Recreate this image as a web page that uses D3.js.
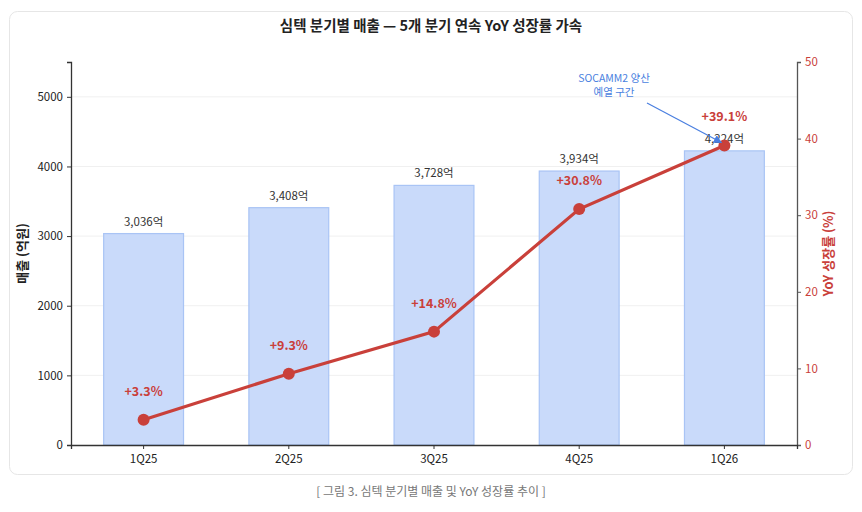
<!DOCTYPE html>
<html>
<head>
<meta charset="utf-8">
<script src="https://cdn.jsdelivr.net/npm/d3@7"></script>
<style>
  body { margin: 0; background: #fff; font-family: "Noto Sans CJK KR", "Noto Sans", sans-serif; }
  svg text { font-family: "Noto Sans CJK KR", "Noto Sans", sans-serif; }
</style>
</head>
<body>
<svg id="chart" width="862" height="512"></svg>
<script>
// data
const quarters = ['1Q25', '2Q25', '3Q25', '4Q25', '1Q26']
const revenue = [3036, 3408, 3728, 3934, 4224]
const yoy = [3.3, 9.3, 14.8, 30.8, 39.1]
const revTicks = [0, 1000, 2000, 3000, 4000, 5000]
const yoyTicks = [0, 10, 20, 30, 40, 50]

const svg = d3.select('#chart')
const margin = { left: 71, right: 65, top: 62, bottom: 67 }
const W = 862, H = 512
const x0 = margin.left, x1 = W - margin.right
const y0 = H - margin.bottom, y1 = margin.top

// card
svg.append('rect')
  .attr('x', 9.5).attr('y', 11.5).attr('width', 843).attr('height', 463)
  .attr('rx', 8).attr('fill', '#fff').attr('stroke', '#e6e6e6')

svg.append('text')
  .attr('x', 431).attr('y', 31).attr('text-anchor', 'middle')
  .attr('font-size', 14.5).attr('font-weight', 700).attr('fill', '#222')
  .text('심텍 분기별 매출 — 5개 분기 연속 YoY 성장률 가속')

const x = d3.scaleBand().domain(quarters).range([x0, x1]).paddingInner(0.45).paddingOuter(0.225)
const yL = d3.scaleLinear().domain([0, 5500]).range([y0, y1])
const yR = d3.scaleLinear().domain([0, 50]).range([y0, y1])
const cx = d => x(d) + x.bandwidth() / 2

// grid
svg.append('g').selectAll('line').data(revTicks.slice(1)).enter().append('line')
  .attr('x1', x0).attr('x2', x1)
  .attr('y1', d => yL(d)).attr('y2', d => yL(d))
  .attr('stroke', '#f0f0f0').attr('stroke-width', 1)

// bars
svg.append('g').selectAll('rect').data(quarters).enter().append('rect')
  .attr('x', d => x(d)).attr('width', x.bandwidth())
  .attr('y', (d, i) => yL(revenue[i])).attr('height', (d, i) => y0 - yL(revenue[i]))
  .attr('fill', '#c9dafa').attr('stroke', '#a9c4f5').attr('stroke-width', 1.2)

svg.append('g').selectAll('text').data(quarters).enter().append('text')
  .attr('x', d => cx(d)).attr('y', (d, i) => yL(revenue[i]) - 8)
  .attr('text-anchor', 'middle').attr('font-size', 11.5).attr('fill', '#333')
  .text((d, i) => d3.format(',')(revenue[i]) + '억')

// axes
const axL = svg.append('g').attr('transform', `translate(${x0},0)`)
  .call(d3.axisLeft(yL).tickValues(revTicks).tickFormat(d3.format('d')).tickSize(4).tickPadding(4))
axL.select('.domain').attr('stroke', '#333').attr('stroke-width', 1.3)
axL.selectAll('.tick line').attr('stroke', '#333')
axL.selectAll('text').attr('font-size', 11.5).attr('fill', '#222')

const axR = svg.append('g').attr('transform', `translate(${x1},0)`)
  .call(d3.axisRight(yR).tickValues(yoyTicks).tickSize(4).tickPadding(4))
axR.select('.domain').attr('stroke', '#555').attr('stroke-width', 1.3)
axR.selectAll('.tick line').attr('stroke', '#555')
axR.selectAll('text').attr('font-size', 11.5).attr('fill', '#c9403a')

const axB = svg.append('g').attr('transform', `translate(0,${y0})`)
  .call(d3.axisBottom(x).tickSize(4).tickPadding(6))
axB.select('.domain').attr('stroke', '#333').attr('stroke-width', 1.3)
axB.selectAll('.tick line').attr('stroke', '#333')
axB.selectAll('text').attr('font-size', 11.5).attr('fill', '#222')

// axis titles
svg.append('text')
  .attr('transform', `translate(27,${(y0 + y1) / 2}) rotate(-90)`)
  .attr('text-anchor', 'middle').attr('font-size', 13).attr('font-weight', 700).attr('fill', '#222')
  .text('매출 (억원)')
svg.append('text')
  .attr('transform', `translate(833,${(y0 + y1) / 2}) rotate(-90)`)
  .attr('text-anchor', 'middle').attr('font-size', 13).attr('font-weight', 700).attr('fill', '#c9403a')
  .text('YoY 성장률 (%)')

// yoy line
const line = d3.line().x((d, i) => cx(quarters[i])).y(d => yR(d))
svg.append('path').datum(yoy)
  .attr('d', line).attr('fill', 'none')
  .attr('stroke', '#c9403a').attr('stroke-width', 3.2)
svg.append('g').selectAll('circle').data(yoy).enter().append('circle')
  .attr('cx', (d, i) => cx(quarters[i])).attr('cy', d => yR(d)).attr('r', 6)
  .attr('fill', '#c9403a')
svg.append('g').selectAll('text').data(yoy).enter().append('text')
  .attr('x', (d, i) => cx(quarters[i])).attr('y', d => yR(d) - 24)
  .attr('text-anchor', 'middle').attr('font-size', 12.5).attr('font-weight', 700)
  .attr('fill', '#c9403a')
  .text(d => '+' + d.toFixed(1) + '%')

// annotation
const last = quarters.length - 1
const ax = cx(quarters[last]), ay = yR(yoy[last])
svg.append('defs').append('marker')
  .attr('id', 'arr').attr('viewBox', '0 0 10 10').attr('refX', 9).attr('refY', 5)
  .attr('markerWidth', 7).attr('markerHeight', 7).attr('orient', 'auto')
  .append('path').attr('d', 'M0,0 L10,5 L0,10 z').attr('fill', '#4a7fe0')
svg.append('line')
  .attr('x1', 647).attr('y1', 103).attr('x2', ax - 3).attr('y2', ay - 3)
  .attr('stroke', '#4a7fe0').attr('stroke-width', 1.2).attr('marker-end', 'url(#arr)')
const note = svg.append('text').attr('text-anchor', 'middle').attr('font-size', 10.5).attr('fill', '#4a7fe0')
note.append('tspan').attr('x', 614).attr('y', 82).text('SOCAMM2 양산')
note.append('tspan').attr('x', 614).attr('y', 96).text('예열 구간')

// caption
svg.append('text')
  .attr('x', 431).attr('y', 496).attr('text-anchor', 'middle')
  .attr('font-size', 12).attr('fill', '#777')
  .text('[ 그림 3. 심텍 분기별 매출 및 YoY 성장률 추이 ]')
</script>
</body>
</html>
